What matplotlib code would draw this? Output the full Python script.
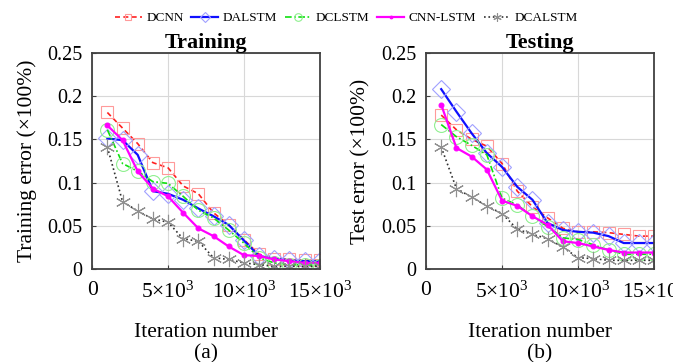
import matplotlib
matplotlib.use('Agg')
import matplotlib.pyplot as plt

plt.rcParams['font.family'] = ['Liberation Serif', 'DejaVu Serif']
plt.rcParams['mathtext.fontset'] = 'custom'
plt.rcParams['mathtext.rm'] = 'Liberation Serif'
plt.rcParams['mathtext.it'] = 'Liberation Serif:italic'

iters = [1000 * k for k in range(1, 16)]

train_dcnn = [0.181, 0.163, 0.145, 0.123, 0.117, 0.096, 0.087, 0.065, 0.051, 0.034, 0.017, 0.012, 0.011, 0.010, 0.010]
train_dalstm = [0.151, 0.149, 0.132, 0.090, 0.087, 0.080, 0.070, 0.061, 0.051, 0.033, 0.015, 0.012, 0.010, 0.009, 0.009]
train_dclstm = [0.161, 0.122, 0.113, 0.101, 0.099, 0.084, 0.068, 0.059, 0.045, 0.030, 0.013, 0.007, 0.005, 0.005, 0.004]
train_cnnlstm = [0.166, 0.149, 0.113, 0.093, 0.084, 0.065, 0.047, 0.038, 0.026, 0.016, 0.015, 0.011, 0.009, 0.007, 0.007]
train_dcalstm = [0.141, 0.078, 0.067, 0.058, 0.054, 0.035, 0.032, 0.013, 0.011, 0.007, 0.005, 0.003, 0.003, 0.003, 0.003]

test_dcnn = [0.178, 0.161, 0.150, 0.142, 0.122, 0.090, 0.072, 0.059, 0.047, 0.043, 0.043, 0.042, 0.040, 0.038, 0.038]
test_dalstm = [0.208, 0.182, 0.157, 0.134, 0.118, 0.095, 0.080, 0.053, 0.045, 0.043, 0.042, 0.038, 0.030, 0.030, 0.030]
test_dclstm = [0.167, 0.153, 0.143, 0.132, 0.082, 0.074, 0.061, 0.049, 0.036, 0.034, 0.028, 0.022, 0.017, 0.017, 0.017]
test_cnnlstm = [0.190, 0.140, 0.130, 0.115, 0.079, 0.073, 0.061, 0.051, 0.032, 0.030, 0.026, 0.022, 0.019, 0.019, 0.019]
test_dcalstm = [0.141, 0.093, 0.083, 0.073, 0.064, 0.046, 0.040, 0.035, 0.025, 0.013, 0.012, 0.010, 0.010, 0.010, 0.010]

names = ['DCNN', 'DALSTM', 'DCLSTM', 'CNN-LSTM', 'DCALSTM']
yticks = [0, 0.05, 0.1, 0.15, 0.2, 0.25]
ytick_labels = ['0', '0.05', '0.1', '0.15', '0.2', '0.25']
xticks = [0, 5000, 10000, 15000]
xtick_labels = ['0', r'5$\times$10$^3$', r'10$\times$10$^3$', r'15$\times$10$^3$']

# (line colour, linestyle, marker, marker edge colour, marker size, marker face)
styles = [
    ('#ff2020', (0, (3, 2)), 's', '#ff9a9a', 9, 'none'),
    ('#1010ff', '-', 'D', '#a0a0ff', 9, 'none'),
    ('#10e010', (0, (4, 1.5, 1, 1.5)), 'o', '#90f090', 10, 'none'),
    ('#ff00ff', '-', 'o', '#ff00ff', 3.5, '#ff00ff'),
    ('#303030', ':', (6, 2, 0), '#909090', 11, 'none'),
]

fig = plt.figure(figsize=(6.73, 3.62), dpi=100)
ax1 = fig.add_axes([0.137, 0.257, 0.338, 0.597])
ax2 = fig.add_axes([0.633, 0.257, 0.339, 0.597])

panels = [
    (ax1, [train_dcnn, train_dalstm, train_dclstm, train_cnnlstm, train_dcalstm],
     'Training', 'Training error (\u00d7100%)', '(a)'),
    (ax2, [test_dcnn, test_dalstm, test_dclstm, test_cnnlstm, test_dcalstm],
     'Testing', 'Test error (\u00d7100%)', '(b)'),
]

for ax, series, title, ylabel, tag in panels:
    for name, vals, (lc, ls, mk, mec, ms, mfc) in zip(names, series, styles):
        lw = 1.6 if ls == '-' else 1.2
        ax.plot(iters, vals, color=lc, linestyle=ls, linewidth=lw, marker=mk,
                markersize=ms, markeredgecolor=mec, markerfacecolor=mfc,
                markeredgewidth=0.8, label=name)
    ax.set_xlim(0, 15000)
    ax.set_ylim(0, 0.25)
    ax.set_xticks(xticks)
    ax.set_xticklabels(xtick_labels)
    ax.set_yticks(yticks)
    ax.set_yticklabels(ytick_labels)
    ax.tick_params(labelsize=14.5, direction='in', length=3, color='#404040', pad=7)
    ax.tick_params(axis='x', labelsize=15.5, pad=9)
    ax.grid(True, color='#d8d8d8', linewidth=0.8)
    ax.set_axisbelow(True)
    for sp in ax.spines.values():
        sp.set_color('#404040')
        sp.set_linewidth(1.3)
    ax.set_title(title, fontsize=16, fontweight='bold', pad=1)
    ax.set_ylabel(ylabel, fontsize=15.5)
    ax.yaxis.set_label_coords(-0.243, 0.5)
    ax.set_xlabel('Iteration number', fontsize=15.5, labelpad=15)
    pos = ax.get_position()
    fig.text((pos.x0 + pos.x1) / 2, 0.01, tag, ha='center', va='baseline', fontsize=15.5)

handles, labels = ax1.get_legend_handles_labels()
fig.legend(handles, labels, loc='center', bbox_to_anchor=(0.515, 0.95), ncol=5,
           frameon=False, fontsize=9.5, handlelength=2.0, columnspacing=0.6,
           handletextpad=0.35, markerscale=0.55)

fig.savefig('out.png', dpi=100)
